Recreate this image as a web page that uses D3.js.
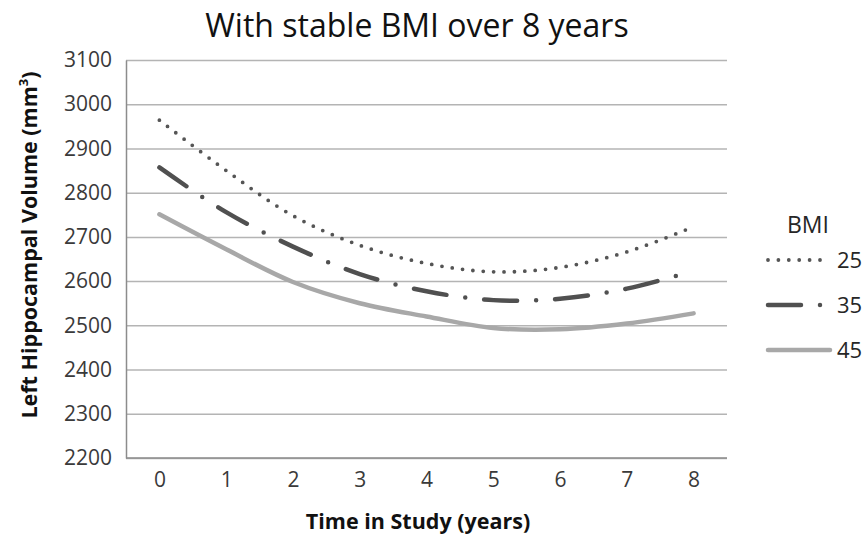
<!DOCTYPE html>
<html>
<head>
<meta charset="utf-8">
<script src="https://cdn.jsdelivr.net/npm/d3@7/dist/d3.min.js"></script>
<style>
  body { margin: 0; background: #fff; }
  svg { display: block; font-family: "Open Sans", sans-serif; }
  .tick text { fill: #3a3a3a; font-size: 21px; font-family: "Open Sans", sans-serif; }
  .grid line { stroke: #b4b4b4; stroke-width: 1.5; }
  .grid .domain { display: none; }
</style>
</head>
<body>
<div id="chart"></div>
<script>
// years on the x axis
const years = [0, 1, 2, 3, 4, 5, 6, 7, 8];
const yTicks = [2200, 2300, 2400, 2500, 2600, 2700, 2800, 2900, 3000, 3100];

// left hippocampal volume (mm3) by BMI group
const bmi25 = [2964, 2850, 2748, 2681, 2640, 2621, 2631, 2666, 2723];
const bmi35 = [2857, 2756, 2678, 2616, 2577, 2557, 2560, 2583, 2623];
const bmi45 = [2751, 2672, 2598, 2550, 2520, 2494, 2491, 2504, 2527];

const seriesNames = ['25', '35', '45'];

const width = 868, height = 539;
const plot = { left: 126, right: 727, top: 60, bottom: 458 };

const styles = {
  '25': { stroke: '#555555', width: 3.8, dash: '0 10.4', cap: 'round' },
  '35': { stroke: '#505050', width: 4.5, dash: '33 19 0 19', cap: 'round' },
  '45': { stroke: '#a8a8a8', width: 4.5, dash: null, cap: 'round' }
};

const series = [
  { name: seriesNames[0], values: bmi25 },
  { name: seriesNames[1], values: bmi35 },
  { name: seriesNames[2], values: bmi45 }
];

const svg = d3.select('#chart').append('svg')
  .attr('width', width)
  .attr('height', height);

const x = d3.scalePoint()
  .domain(years)
  .range([plot.left, plot.right])
  .padding(0.5);

const y = d3.scaleLinear()
  .domain([2200, 3100])
  .range([plot.bottom, plot.top]);

// gridlines
svg.append('g')
  .attr('class', 'grid')
  .attr('transform', `translate(${plot.left},0)`)
  .call(d3.axisLeft(y).tickValues(yTicks).tickSize(-(plot.right - plot.left)).tickFormat(''));

// y axis labels
const yAxis = svg.append('g')
  .attr('transform', `translate(${plot.left},0)`)
  .call(d3.axisLeft(y).tickValues(yTicks).tickSize(0).tickPadding(14).tickFormat(d3.format('d')));
yAxis.select('.domain').attr('stroke', '#8c8c8c').attr('stroke-width', 1.5);

// x axis
const xAxis = svg.append('g')
  .attr('transform', `translate(0,${plot.bottom})`)
  .call(d3.axisBottom(x).tickSize(0).tickPadding(14));
xAxis.select('.domain').remove();
svg.append('line')
  .attr('x1', plot.left).attr('x2', plot.right)
  .attr('y1', plot.bottom).attr('y2', plot.bottom)
  .attr('stroke', '#8c8c8c').attr('stroke-width', 1.5);

// lines
const line = d3.line()
  .x((d, i) => x(years[i]))
  .y(d => y(d))
  .curve(d3.curveCatmullRom.alpha(0.5));

svg.selectAll('.series')
  .data(series)
  .enter().append('path')
    .attr('class', 'series')
    .attr('d', d => line(d.values))
    .attr('fill', 'none')
    .attr('stroke', d => styles[d.name].stroke)
    .attr('stroke-width', d => styles[d.name].width)
    .attr('stroke-dasharray', d => styles[d.name].dash)
    .attr('stroke-linecap', d => styles[d.name].cap);

// titles
svg.append('text')
  .attr('x', 417).attr('y', 37)
  .attr('text-anchor', 'middle')
  .attr('font-size', 32)
  .attr('fill', '#111')
  .text('With stable BMI over 8 years');

svg.append('text')
  .attr('x', 418).attr('y', 529)
  .attr('text-anchor', 'middle')
  .attr('font-size', 21.5)
  .attr('font-weight', 'bold')
  .attr('fill', '#111')
  .text('Time in Study (years)');

const yTitle = svg.append('text')
  .attr('transform', 'translate(37,245) rotate(-90)')
  .attr('text-anchor', 'middle')
  .attr('font-size', 21.5)
  .attr('font-weight', 'bold')
  .attr('fill', '#111');
yTitle.append('tspan').text('Left Hippocampal Volume (mm');
yTitle.append('tspan').attr('font-size', 13).attr('dy', -9).text('3');
yTitle.append('tspan').attr('dy', 9).text(')');

// legend
const legend = svg.append('g');
legend.append('text')
  .attr('x', 808).attr('y', 233)
  .attr('text-anchor', 'middle')
  .attr('font-size', 23)
  .attr('fill', '#262626')
  .text('BMI');

const legendRows = legend.selectAll('.row')
  .data(series)
  .enter().append('g')
    .attr('class', 'row')
    .attr('transform', (d, i) => `translate(0,${260 + i * 45})`);

legendRows.append('line')
  .attr('x1', 768).attr('x2', 830)
  .attr('stroke', d => styles[d.name].stroke)
  .attr('stroke-width', d => styles[d.name].width)
  .attr('stroke-dasharray', d => styles[d.name].dash)
  .attr('stroke-linecap', d => styles[d.name].cap);

legendRows.append('text')
  .attr('x', 837).attr('y', 8)
  .attr('font-size', 22)
  .attr('fill', '#262626')
  .text(d => d.name);
</script>
</body>
</html>
